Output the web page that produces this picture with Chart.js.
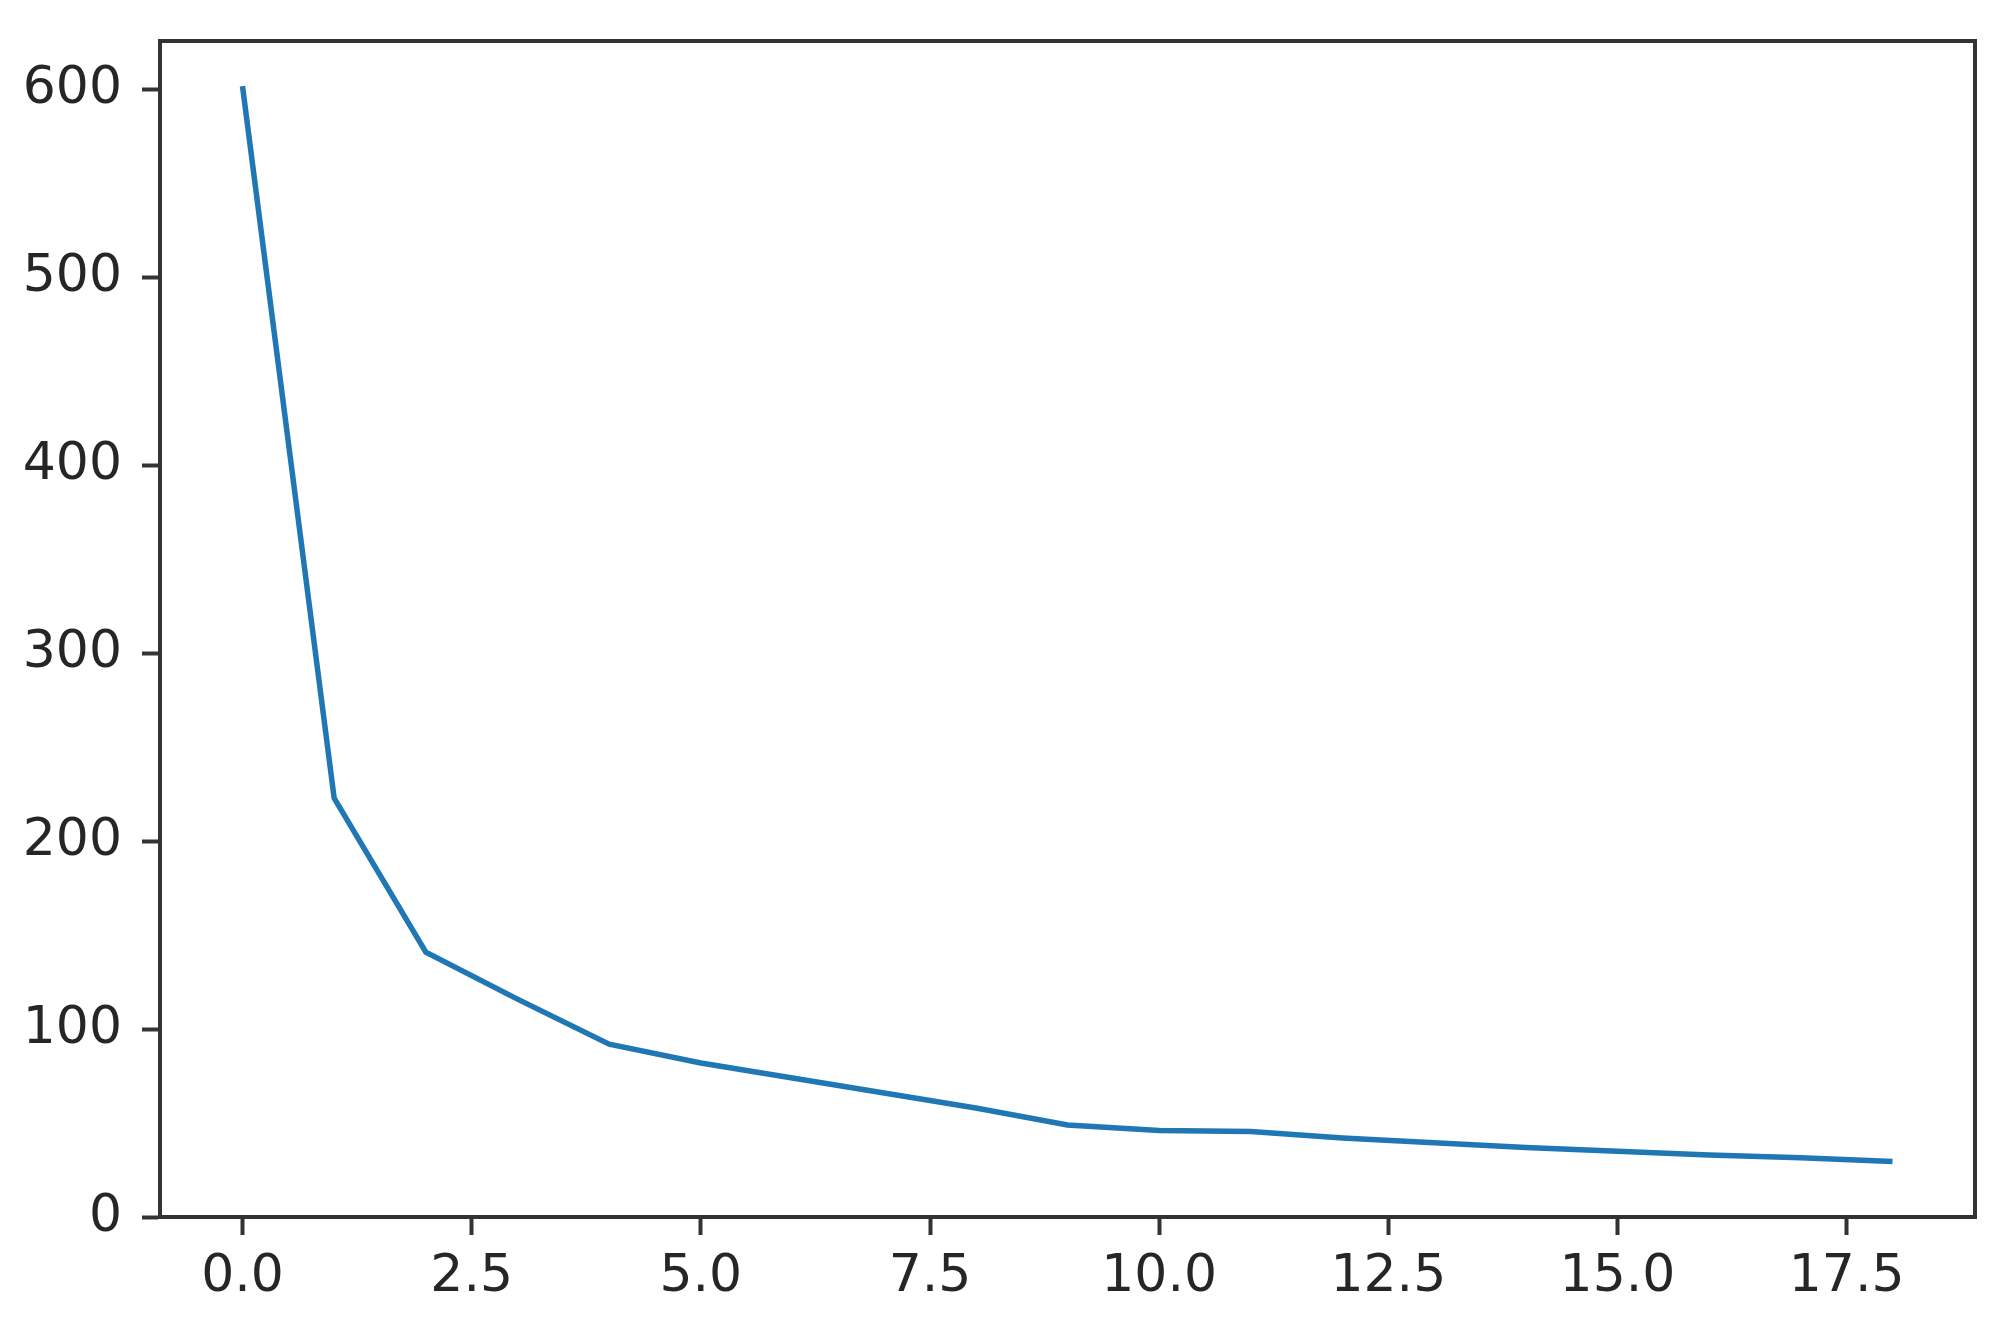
<!DOCTYPE html>
<html>
<head>
<meta charset="utf-8">
<script src="https://cdn.jsdelivr.net/npm/chart.js@4/dist/chart.umd.min.js"></script>
<style>
  html, body { margin: 0; padding: 0; background: #fff; }
  #wrap { width: 2015px; height: 1332px; }
</style>
</head>
<body>
<div id="wrap"><canvas id="lossChart"></canvas></div>
<script>
const xValues = [0, 1, 2, 3, 4, 5, 6, 7, 8, 9, 10, 11, 12, 13, 14, 15, 16, 17, 18];
const yValues = [602, 223, 141, 116, 92, 82, 74, 66, 58, 49, 46, 45.5, 42, 39.5, 37, 35, 33, 31.5, 29.5];
const xTicks = [0, 2.5, 5, 7.5, 10, 12.5, 15, 17.5];
const yTicks = [0, 100, 200, 300, 400, 500, 600];

const axisColor = "#333333";
const textColor = "#262626";

// draw the top and right spines like matplotlib
const frame = {
  id: "frame",
  afterDraw(chart) {
    const { ctx, chartArea: a } = chart;
    ctx.save();
    ctx.strokeStyle = axisColor;
    ctx.lineWidth = 4;
    ctx.strokeRect(a.left, a.top, a.right - a.left, a.bottom - a.top);
    ctx.restore();
  }
};

const ctx = document.getElementById("lossChart").getContext("2d");
new Chart(ctx, {
  type: "line",
  data: {
    datasets: [{
      data: xValues.map((x, i) => ({ x: x, y: yValues[i] })),
      borderColor: "#1f77b4",
      borderWidth: 5.5,
      pointRadius: 0,
      tension: 0,
      fill: false
    }]
  },
  options: {
    responsive: true,
    maintainAspectRatio: false,
    animation: false,
    layout: { padding: { top: 41, right: 40, left: 0, bottom: 0 } },
    plugins: { legend: { display: false }, tooltip: { enabled: false } },
    scales: {
      x: {
        type: "linear",
        min: -0.9,
        max: 18.9,
        afterBuildTicks: s => { s.ticks = xTicks.map(v => ({ value: v })); },
        afterFit: s => { s.height = 115; s.paddingLeft = 0; s.paddingRight = 0; },
        grid: { drawOnChartArea: false, drawTicks: true, tickLength: 18, tickColor: axisColor, tickWidth: 4 },
        border: { display: true, color: axisColor, width: 4 },
        ticks: {
          color: textColor,
          font: { family: "DejaVu Sans", size: 52 },
          padding: 11,
          maxRotation: 0,
          autoSkip: false,
          callback: v => v.toFixed(1)
        }
      },
      y: {
        type: "linear",
        min: 0,
        max: 626,
        afterBuildTicks: s => { s.ticks = yTicks.map(v => ({ value: v })); },
        afterFit: s => { s.width = 160; s.paddingTop = 0; s.paddingBottom = 0; },
        grid: { drawOnChartArea: false, drawTicks: true, tickLength: 18, tickColor: axisColor, tickWidth: 4 },
        border: { display: true, color: axisColor, width: 4 },
        ticks: {
          color: textColor,
          font: { family: "DejaVu Sans", size: 52 },
          padding: 20,
          autoSkip: false,
          callback: v => String(v)
        }
      }
    }
  },
  plugins: [frame]
});
</script>
</body>
</html>
